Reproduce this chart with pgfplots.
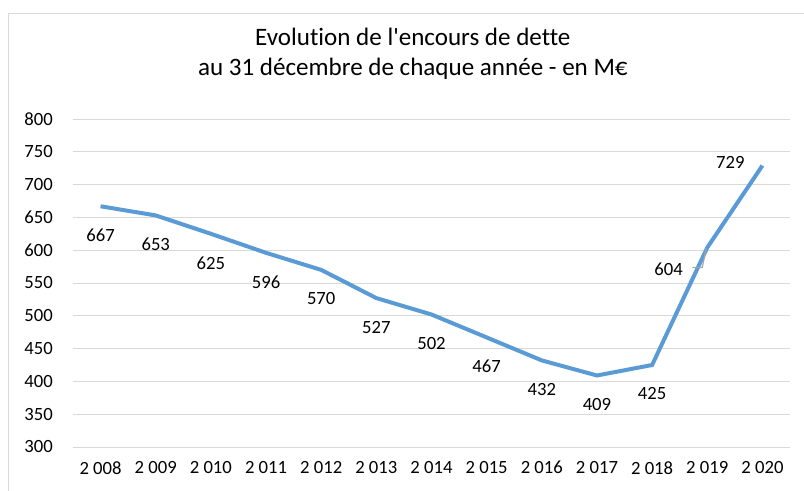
\documentclass[border=0pt]{standalone}
\usepackage{pgfplots}
\pgfplotsset{compat=1.18}
\usepackage{fontspec}
\setmainfont{Carlito}[Ligatures={NoCommon}]
\definecolor{linec}{HTML}{5B9BD5}
\definecolor{gridc}{HTML}{D9D9D9}
\definecolor{framec}{HTML}{D9D9D9}
\definecolor{leadc}{HTML}{A6A6A6}
\begin{document}
\begin{tikzpicture}
\useasboundingbox (-54.75pt,-32.25pt) rectangle (548.25pt,335.25pt);
\draw[color=framec, line width=1.1pt] (-48.4pt,-60pt) -- (-48.4pt,325.1pt) -- (600pt,325.1pt);
\begin{axis}[
  at={(0,0)}, anchor=south west,
  scale only axis,
  width=537.75pt, height=246pt,
  xmin=-0.5, xmax=12.5,
  ymin=300, ymax=800,
  ytick={300,350,...,800},
  xtick={0,...,12},
  xticklabels={2 008,2 009,2 010,2 011,2 012,2 013,2 014,2 015,2 016,2 017,2 018,2 019,2 020},
  axis line style={draw=none},
  major tick length=0pt,
  ymajorgrids,
  grid style={color=gridc, line width=0.75pt},
  /pgf/number format/assume math mode=true,
  tick label style={font=\fontsize{14}{16}\selectfont, color=black},
  yticklabel style={inner sep=0pt, anchor=east, xshift=-15pt},
  xticklabel style={inner sep=0pt, anchor=north, yshift=-10.5pt},
  title={Evolution de l\textquotesingle encours de dette\\au 31 décembre de chaque année - en M€},
  title style={at={(axis description cs:0.474,1.174)}, anchor=center, align=center, inner sep=0pt, font=\fontsize{18.8}{22.5}\selectfont},
  clip=false,
]
\coordinate (p19) at (axis cs:11,604);
\addplot[color=linec, line width=3pt, mark=none,
  point meta=explicit symbolic,
  visualization depends on={\thisrow{dx}\as\dx},
  visualization depends on={\thisrow{dy}\as\dy},
  nodes near coords,
  nodes near coords style={anchor=center, inner sep=0pt, xshift=\dx pt, yshift=\dy pt, font=\fontsize{14}{16}\selectfont, color=black},
] table[x=x, y=y, meta=lab] {
x y lab dx dy
0 667 667 0 -21.75
1 653 653 0 -21.75
2 625 625 0 -21.75
3 596 596 0 -21.75
4 570 570 0 -21.75
5 527 527 0 -21.75
6 502 502 0 -21.75
7 467 467 0 -21.75
8 432 432 0 -21.75
9 409 409 0 -21.75
10 425 425 0 -21.75
11 604 604 -29 -16.5
12 729 729 -24 2
};
\end{axis}
\draw[color=leadc, line width=0.9pt] ([shift={(-11.25pt,-15pt)}]p19) -- ([shift={(-3.75pt,-15pt)}]p19) -- ([shift={(-0.75pt,-0.75pt)}]p19);
\end{tikzpicture}
\end{document}
